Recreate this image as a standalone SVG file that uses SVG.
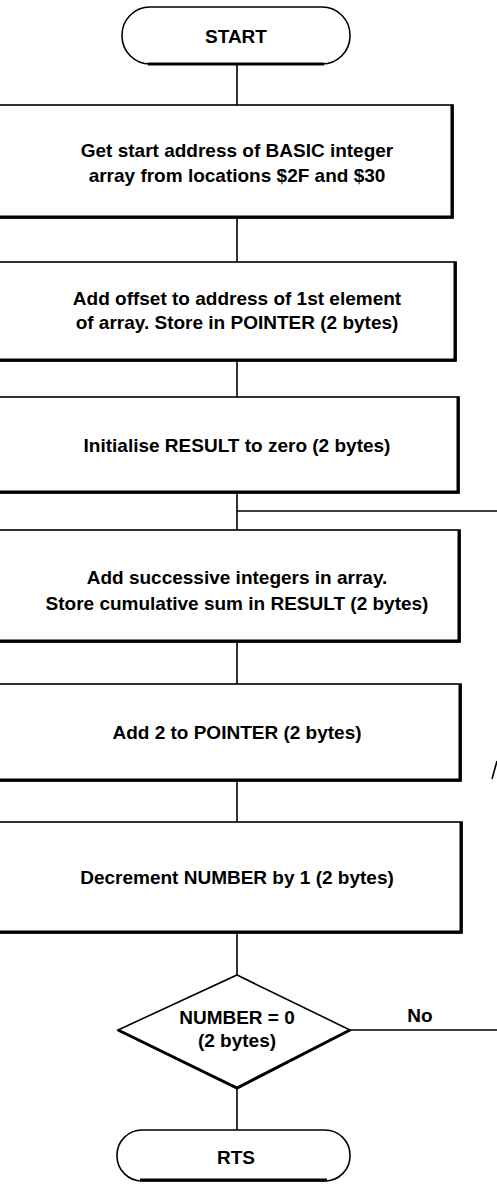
<svg xmlns="http://www.w3.org/2000/svg" width="497" height="1185" viewBox="0 0 497 1185">
<style>
.box{fill:#fff;stroke:#000;stroke-width:1.6}
.sh{fill:none;stroke:#000;stroke-width:3;stroke-linejoin:miter}
.ln{fill:none;stroke:#000;stroke-width:1.6}
.t{font-family:"Liberation Sans",Arial,Helvetica,sans-serif;font-weight:bold;font-size:19px;text-anchor:middle;fill:#000}
</style>
<rect width="497" height="1185" fill="#fff"/>
<g id="connectors">
<line class="ln" x1="237" y1="65" x2="237" y2="105"/>
<line class="ln" x1="237" y1="218" x2="237" y2="262"/>
<line class="ln" x1="237" y1="361" x2="237" y2="397"/>
<line class="ln" x1="237" y1="493" x2="237" y2="530"/>
<line class="ln" x1="237" y1="511" x2="497" y2="511"/>
<line class="ln" x1="237" y1="642" x2="237" y2="684"/>
<line class="ln" x1="237" y1="781" x2="237" y2="822"/>
<line class="ln" x1="237" y1="933" x2="237" y2="975"/>
<line class="ln" x1="350" y1="1030" x2="497" y2="1030"/>
<line class="ln" x1="237" y1="1088" x2="237" y2="1130"/>
<line class="ln" x1="492" y1="779" x2="497" y2="761" stroke-width="2.8"/>
<text class="t" x="420" y="1022">No</text>
</g>
<g id="start">
<rect class="box" x="122" y="7" width="228" height="57" rx="28" ry="28"/>
<path class="sh" d="M148 64 H324"/>
<text class="t" x="236" y="43">START</text>
</g>
<g id="box1">
<rect class="box" x="-10" y="105" width="463" height="113"/>
<path class="sh" d="M-10 217 H452 V105"/>
<text class="t" x="237" y="157">Get start address of BASIC integer</text>
<text class="t" x="237" y="182">array from locations $2F and $30</text>
</g>
<g id="box2">
<rect class="box" x="-10" y="262" width="466" height="99"/>
<path class="sh" d="M-10 360 H455 V262"/>
<text class="t" x="237" y="305">Add offset to address of 1st element</text>
<text class="t" x="237" y="329">of array. Store in POINTER (2 bytes)</text>
</g>
<g id="box3">
<rect class="box" x="-10" y="397" width="469" height="96"/>
<path class="sh" d="M-10 492 H458 V397"/>
<text class="t" x="237" y="452">Initialise RESULT to zero (2 bytes)</text>
</g>
<g id="box4">
<rect class="box" x="-10" y="530" width="470" height="112"/>
<path class="sh" d="M-10 641 H459 V530"/>
<text class="t" x="237" y="584">Add successive integers in array.</text>
<text class="t" x="237" y="610">Store cumulative sum in RESULT (2 bytes)</text>
</g>
<g id="box5">
<rect class="box" x="-10" y="684" width="471" height="97"/>
<path class="sh" d="M-10 780 H460 V684"/>
<text class="t" x="237" y="739">Add 2 to POINTER (2 bytes)</text>
</g>
<g id="box6">
<rect class="box" x="-10" y="822" width="472" height="111"/>
<path class="sh" d="M-10 932 H461 V822"/>
<text class="t" x="237" y="884">Decrement NUMBER by 1 (2 bytes)</text>
</g>
<g id="decision">
<polygon class="box" points="237,975 350,1030 237,1088 118,1030"/>
<path class="sh" d="M118 1030 L237 1088 L350 1030"/>
<text class="t" x="237" y="1024">NUMBER = 0</text>
<text class="t" x="237" y="1047">(2 bytes)</text>
</g>
<g id="rts">
<rect class="box" x="117" y="1130" width="233" height="51" rx="25" ry="25"/>
<path class="sh" d="M140 1180 H327"/>
<text class="t" x="236" y="1164">RTS</text>
</g>
</svg>
